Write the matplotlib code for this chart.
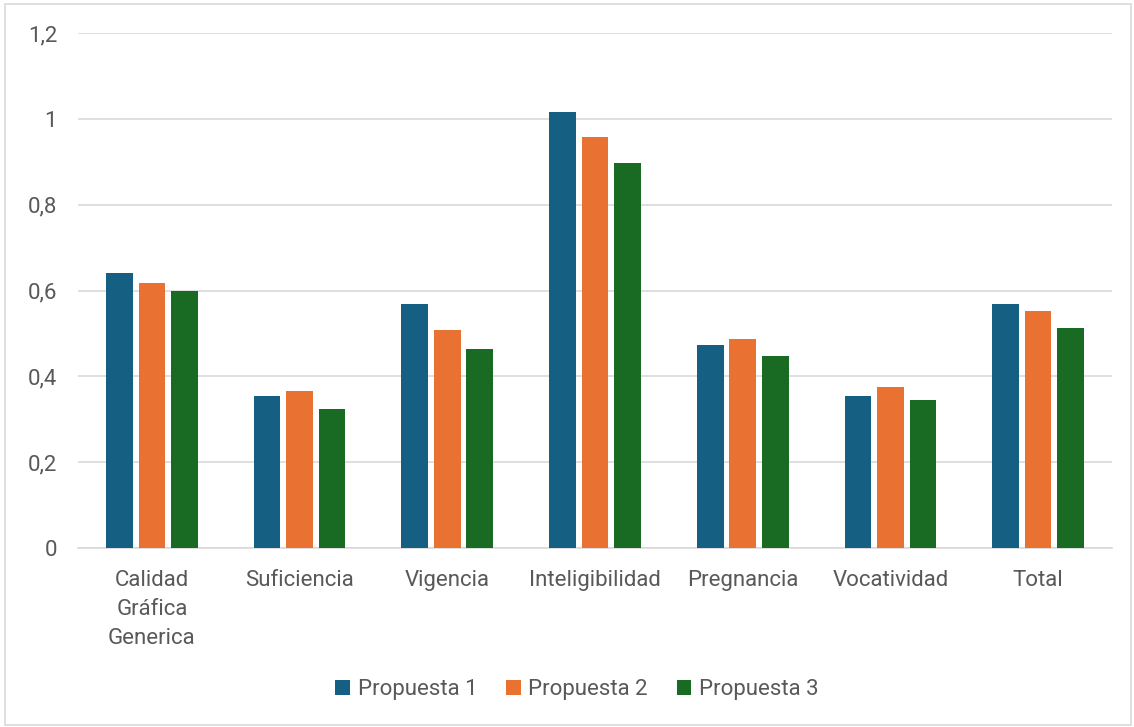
import numpy as np
import matplotlib.pyplot as plt
from matplotlib.patches import Rectangle
from matplotlib.ticker import FuncFormatter

plt.rcParams['font.family'] = ['Roboto', 'DejaVu Sans']

# data
categories = ['Calidad\nGráfica\nGenerica', 'Suficiencia', 'Vigencia', 'Inteligibilidad',
              'Pregnancia', 'Vocatividad', 'Total']
propuesta_1 = [0.64, 0.355, 0.568, 1.017, 0.474, 0.355, 0.569]
propuesta_2 = [0.618, 0.365, 0.507, 0.958, 0.487, 0.376, 0.553]
propuesta_3 = [0.600, 0.323, 0.463, 0.898, 0.447, 0.345, 0.513]
series_names = ['Propuesta 1', 'Propuesta 2', 'Propuesta 3']
colors = ['#156082', '#E97132', '#196B24']

fig = plt.figure(figsize=(11.34, 7.27), dpi=100)
ax = fig.add_axes([78 / 1134, 1 - 548 / 727, (1112 - 78) / 1134, (548 - 33) / 727])

x = np.arange(len(categories))
width = 0.18
offset = 0.22
for i, (vals, name, col) in enumerate(zip([propuesta_1, propuesta_2, propuesta_3], series_names, colors)):
    ax.bar(x + (i - 1) * offset, vals, width, color=col, label=name, zorder=3)

ax.set_xlim(-0.5, len(categories) - 0.5)
ax.set_ylim(0, 1.2)
ax.set_yticks(np.arange(0, 1.21, 0.2))
ax.yaxis.set_major_formatter(FuncFormatter(lambda v, p: ('%g' % round(v, 1)).replace('.', ',')))
ax.set_xticks(x)
ax.set_xticklabels(categories, linespacing=1.48)
ax.tick_params(axis='both', length=0, labelsize=16, labelcolor='#595959')
ax.tick_params(axis='x', pad=16)
ax.tick_params(axis='y', pad=15)
for lab in ax.get_yticklabels():
    lab.set_horizontalalignment('right')

ax.grid(axis='y', color='#d9d9d9', linewidth=1.2, zorder=0)
for s in ['top', 'right', 'left']:
    ax.spines[s].set_visible(False)
ax.spines['bottom'].set_color('#d9d9d9')
ax.spines['bottom'].set_linewidth(1.2)

ax.legend(loc='center', bbox_to_anchor=(577 / 1134, 1 - 690 / 727), bbox_transform=fig.transFigure,
          ncol=3, frameon=False, fontsize=16, labelcolor='#595959',
          handlelength=0.65, handleheight=0.65, handletextpad=0.35, columnspacing=1.3)

# light frame around whole chart
fig.patches.append(Rectangle((5 / 1134, 2 / 727), 1 - 8 / 1134, 1 - 6 / 727, transform=fig.transFigure,
                             fill=False, edgecolor='#d9d9d9', linewidth=1.2))

fig.savefig('out.png', dpi=100)
